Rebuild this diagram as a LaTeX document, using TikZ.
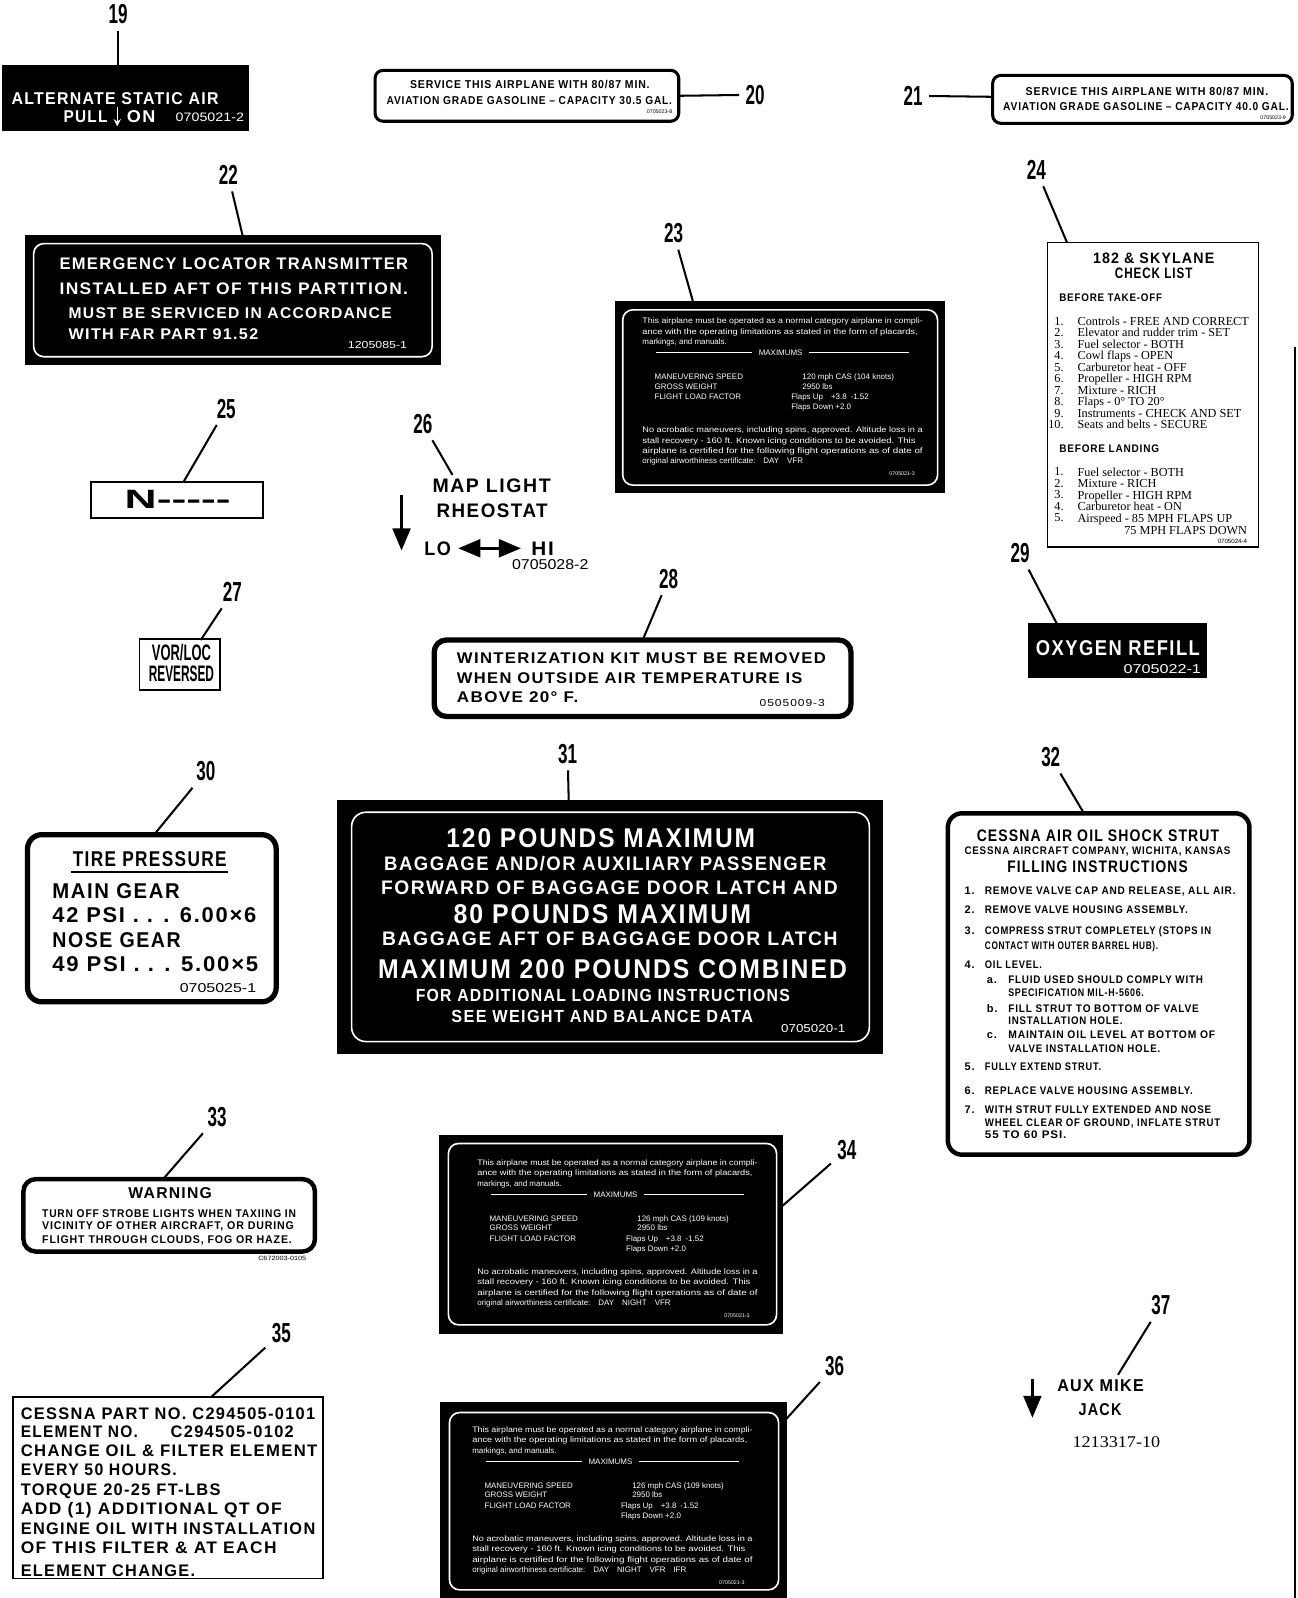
\documentclass[tikz,border=0pt]{standalone}
\usepackage{fontspec}
\usepackage{graphicx}
\setmainfont{Liberation Sans}
\newfontfamily\numfont[FakeStretch=0.62]{Liberation Sans}
\newfontfamily\plfont[LetterSpace=8]{Liberation Sans}
\newfontfamily\serfont{Liberation Serif}
\usetikzlibrary{arrows,shapes,positioning,calc}

\newlength\px
\setlength\px{0.5pt}
\newcommand\fsz[1]{\fontsize{#1}{#1}\selectfont}
\newcommand\fit[2]{\resizebox{#1\px}{\height}{#2}}

\tikzset{
  num/.style={font=\numfont\bfseries\fsz{13.5}, inner sep=3pt},
  lead/.style={line width=1pt},
  blackplate/.style={fill=black, draw=black, inner sep=0pt},
  whiteplate/.style={draw=black, fill=white, line width=2pt, rounded corners=4pt, inner sep=0pt},
  thinplate/.style={draw=black, fill=white, line width=0.8pt, inner sep=0pt},
  wtxt/.style={text=white, anchor=west, inner sep=0pt, text depth=0pt},
  btxt/.style={text=black, anchor=west, inner sep=0pt, text depth=0pt},
  rim/.style={draw=white, line width=0.8pt, rounded corners=5pt},
  ltxt/.style={btxt, font=\serfont\fsz{6}},
}

% operating limitations placard (x, y of first line, name, speed, operations)
\newcommand\opsplate[5]{%
  \begin{scope}[shift={(#1,#2)}, font=\fsz{3.9}]
    \node[wtxt] (#3a) at (0,0) {\fit{275}{This airplane must be operated as a normal category airplane in compli-}};
    \node[wtxt] (#3b) at (0,10) {\fit{270}{ance with the operating limitations as stated in the form of placards,}};
    \node[wtxt] (#3c) at (0,20) {markings, and manuals.};
    \draw[white, line width=0.4pt] (14,31) -- (108,31);
    \node[wtxt, anchor=center] (#3d) at (136,31) {MAXIMUMS};
    \draw[white, line width=0.4pt] (164,31) -- (262,31);
    \node[wtxt] (#3e) at (12,55) {MANEUVERING SPEED};
    \node[wtxt] (#3f) at (12,64) {GROSS WEIGHT};
    \node[wtxt] (#3g) at (12,74) {FLIGHT LOAD FACTOR};
    \node[wtxt] (#3h) at (157,55) {#4};
    \node[wtxt] (#3i) at (157,64) {2950 lbs};
    \node[wtxt] (#3j) at (146,74) {Flaps Up\quad +3.8\enspace -1.52};
    \node[wtxt] (#3k) at (146,84) {Flaps Down +2.0};
    \node[wtxt] (#3l) at (0,107) {\fit{275}{No acrobatic maneuvers, including spins, approved. Altitude loss in a}};
    \node[wtxt] (#3m) at (0,117) {\fit{268}{stall recovery - 160 ft. Known icing conditions to be avoided. This}};
    \node[wtxt] (#3n) at (0,127) {\fit{275}{airplane is certified for the following flight operations as of date of}};
    \node[wtxt] (#3o) at (0,137) {original airworthiness certificate:\quad #5};
    \node[wtxt, anchor=east, font=\fsz{2.6}] (#3p) at (268,150) {0705021-3};
  \end{scope}}

\begin{document}
\begin{tikzpicture}[x=0.5pt, y=-0.5pt]
  \fill[white] (0,0) rectangle (1273,1568);
  \useasboundingbox (0,0) rectangle (1273,1568);

  % 19
  \node[num] (n19) at (116,14) {19};
  \node[blackplate, minimum width=242\px, minimum height=64\px] (p19) at (123,96) {};
  \coordinate (c19) at (116,64);
  \draw[lead] (n19) -- (c19);
  \node[wtxt, font=\plfont\bfseries\fsz{8.4}] (t19a) at (11,97) {\fit{203}{ALTERNATE STATIC AIR}};
  \node[wtxt, font=\plfont\bfseries\fsz{8.4}] (t19b) at (62,114) {\fit{43}{PULL}};
  \draw[white, line width=0.6pt, -stealth] (115,105) -- (115,124);
  \node[wtxt, font=\plfont\bfseries\fsz{8.4}] (t19c) at (124,114) {\fit{28}{ON}};
  \node[wtxt, font=\fsz{6}] (t19d) at (172,115) {\fit{67}{0705021-2}};

  % 20
  \node[whiteplate, line width=1.5pt, minimum width=298\px, minimum height=50\px] (p20) at (517,94) {};
  \node[btxt, font=\plfont\bfseries\fsz{5.6}] (t20a) at (402,83) {\fit{235}{SERVICE THIS AIRPLANE WITH 80/87 MIN.}};
  \node[btxt, font=\plfont\bfseries\fsz{5.6}] (t20b) at (379,99) {\fit{280}{AVIATION GRADE GASOLINE – CAPACITY 30.5 GAL.}};
  \node[btxt, anchor=east, font=\fsz{2.6}] (t20c) at (660,110) {0705023-8};
  \node[num] (n20) at (741,93) {20};
  \coordinate (c20) at (666,94);
  \draw[lead] (c20) -- (n20);

  % 21
  \node[num] (n21) at (896,94) {21};
  \node[whiteplate, line width=1.5pt, minimum width=294\px, minimum height=47\px] (p21) at (1121,97.5) {};
  \coordinate (c21) at (974,95);
  \draw[lead] (n21) -- (c21);
  \node[btxt, font=\plfont\bfseries\fsz{5.6}] (t21a) at (1006,90) {\fit{238}{SERVICE THIS AIRPLANE WITH 80/87 MIN.}};
  \node[btxt, font=\plfont\bfseries\fsz{5.6}] (t21b) at (984,105) {\fit{280}{AVIATION GRADE GASOLINE – CAPACITY 40.0 GAL.}};
  \node[btxt, anchor=east, font=\fsz{2.6}] (t21c) at (1262,115) {0705023-9};

  % 22
  \node[num] (n22) at (224,172) {22};
  \node[blackplate, minimum width=407\px, minimum height=127\px] (p22) at (228.5,294.5) {};
  \coordinate (c22) at (238,231);
  \draw[lead] (n22) -- (c22);
  \draw[rim] (33,239) rectangle (424,350);
  \node[wtxt, font=\plfont\bfseries\fsz{8.2}] (t22a) at (58,259) {\fit{342}{EMERGENCY LOCATOR TRANSMITTER}};
  \node[wtxt, font=\plfont\bfseries\fsz{8.2}] (t22b) at (58,283) {\fit{342}{INSTALLED AFT OF THIS PARTITION.}};
  \node[wtxt, font=\plfont\bfseries\fsz{7.6}] (t22c) at (67,307) {\fit{317}{MUST BE SERVICED IN ACCORDANCE}};
  \node[wtxt, font=\plfont\bfseries\fsz{7.6}] (t22d) at (67,328) {\fit{186}{WITH FAR PART 91.52}};
  \node[wtxt, font=\fsz{5}] (t22e) at (341,338) {\fit{58}{1205085-1}};

  % 23
  \node[num] (n23) at (661,229) {23};
  \node[blackplate, minimum width=323\px, minimum height=187\px] (p23) at (765.5,389.5) {};
  \coordinate (c23) at (680,296);
  \draw[lead] (n23) -- (c23);
  \draw[rim] (611,304) rectangle (920,476);
  \opsplate{630}{315}{t23}{120 mph CAS (104 knots)}{DAY\quad VFR}

  % 24
  \node[num] (n24) at (1017,167) {24};
  \node[thinplate, minimum width=207\px, minimum height=299\px] (p24) at (1131.5,387.5) {};
  \coordinate (c24) at (1047,238);
  \draw[lead] (n24) -- (c24);
  \node[btxt, anchor=center, font=\plfont\bfseries\fsz{7.4}] (t24a) at (1132,253) {\fit{119}{182 \& SKYLANE}};
  \node[btxt, anchor=center, font=\plfont\bfseries\fsz{7.4}] (t24b) at (1132,268) {\fit{76}{CHECK LIST}};
  \node[btxt, font=\plfont\bfseries\fsz{5.4}] (t24c) at (1039,292) {\fit{101}{BEFORE TAKE-OFF}};
  \foreach \k/\s [count=\i from 0] in {1./Controls - FREE AND CORRECT, 2./Elevator and rudder trim - SET,
      3./Fuel selector - BOTH, 4./Cowl flaps - OPEN, 5./Carburetor heat - OFF, 6./Propeller - HIGH RPM,
      7./Mixture - RICH, 8./Flaps - 0° TO 20°, 9./Instruments - CHECK AND SET, 10./Seats and belts - SECURE}{
    \node[ltxt, anchor=east] (k24-\i) at (1044,{315+11.3*\i}) {\k};
    \node[ltxt] (s24-\i) at (1057,{315+11.3*\i}) {\s};
  }
  \node[btxt, font=\plfont\bfseries\fsz{5.4}] (t24d) at (1039,440) {\fit{98}{BEFORE LANDING}};
  \foreach \k/\s [count=\i from 0] in {1./Fuel selector - BOTH, 2./Mixture - RICH, 3./Propeller - HIGH RPM,
      4./Carburetor heat - ON, 5./Airspeed - 85 MPH FLAPS UP}{
    \node[ltxt, anchor=east] (l24-\i) at (1044,{463+11.3*\i}) {\k};
    \node[ltxt] (m24-\i) at (1057,{463+11.3*\i}) {\s};
  }
  \node[ltxt, anchor=east] (t24e) at (1224,520) {75 MPH FLAPS DOWN};
  \node[btxt, anchor=east, font=\fsz{3}] (t24f) at (1224,531) {0705024-4};

  % 25
  \node[num] (n25) at (222,401) {25};
  \node[thinplate, minimum width=169\px, minimum height=35\px] (p25) at (173.5,490.5) {};
  \coordinate (c25) at (180,473);
  \draw[lead] (n25) -- (c25);
  \node[btxt, font=\bfseries\fsz{13}] (t25) at (122,490) {\fit{104}{N-{}-{}-{}-{}-}};

  % 26
  \node[num] (n26) at (415,416) {26};
  \coordinate (c26) at (444,466);
  \draw[lead] (n26) -- (c26);
  \node[btxt, font=\plfont\bfseries\fsz{9.6}] (t26a) at (424,477) {\fit{116}{MAP LIGHT}};
  \node[btxt, font=\plfont\bfseries\fsz{9.6}] (t26b) at (428,501) {\fit{109}{RHEOSTAT}};
  \draw[line width=1.5pt, -triangle 45] (394,486) -- (394,540);
  \node[btxt, font=\plfont\bfseries\fsz{9.6}] (lo) at (416,538) {\fit{26}{LO}};
  \node[btxt, font=\plfont\bfseries\fsz{9.6}] (hi) at (521,538) {\fit{22}{HI}};
  \draw[line width=1.5pt, triangle 45-triangle 45, shorten <=3.5pt, shorten >=5pt] (lo) -- (hi);
  \node[btxt, font=\fsz{7}] (t26c) at (502,554) {\fit{75}{0705028-2}};

  % 27
  \node[num] (n27) at (228,581) {27};
  \node[thinplate, minimum width=79\px, minimum height=50\px] (p27) at (176.5,652) {};
  \coordinate (c27) at (197,628);
  \draw[lead] (n27) -- (c27);
  \node[btxt, anchor=center, font=\numfont\bfseries\fsz{11}] (t27a) at (178,640) {\fit{58}{VOR/LOC}};
  \node[btxt, anchor=center, font=\numfont\bfseries\fsz{11}] (t27b) at (178,661) {\fit{64}{REVERSED}};

  % 28
  \node[num] (n28) at (656,568) {28};
  \node[whiteplate, line width=2.6pt, rounded corners=6pt, minimum width=409\px, minimum height=75\px] (p28) at (630.5,665.5) {};
  \coordinate (c28) at (631,627);
  \draw[lead] (n28) -- (c28);
  \node[btxt, font=\plfont\bfseries\fsz{7.6}] (t28a) at (448,646) {\fit{362}{WINTERIZATION KIT MUST BE REMOVED}};
  \node[btxt, font=\plfont\bfseries\fsz{7.6}] (t28b) at (448,665) {\fit{339}{WHEN OUTSIDE AIR TEMPERATURE IS}};
  \node[btxt, font=\plfont\bfseries\fsz{7.6}] (t28c) at (448,684) {\fit{119}{ABOVE 20° F.}};
  \node[btxt, font=\plfont\fsz{5}] (t28d) at (745,690) {\fit{64}{0505009-3}};

  % 29
  \node[num] (n29) at (1001,543) {29};
  \node[blackplate, minimum width=175\px, minimum height=53\px] (p29) at (1096.5,638.5) {};
  \coordinate (c29) at (1037,612);
  \draw[lead] (n29) -- (c29);
  \node[wtxt, font=\plfont\bfseries\fsz{10.5}] (t29a) at (1016,636) {\fit{161}{OXYGEN REFILL}};
  \node[wtxt, font=\fsz{6.3}] (t29b) at (1102,656) {\fit{76}{0705022-1}};

  % 30
  \node[num] (n30) at (202,757) {30};
  \node[whiteplate, line width=2.6pt, rounded corners=7pt, minimum width=244\px, minimum height=164\px] (p30) at (149,901) {};
  \coordinate (c30) at (152,818);
  \draw[lead] (n30) -- (c30);
  \node[btxt, font=\plfont\bfseries\fsz{10.5}] (t30a) at (71,843) {\fit{151}{TIRE PRESSURE}};
  \draw[line width=1pt] (70,856) -- (224,856);
  \node[btxt, font=\plfont\bfseries\fsz{10.5}] (t30b) at (51,874) {\fit{125}{MAIN GEAR}};
  \node[btxt, font=\plfont\bfseries\fsz{10.5}] (t30c) at (51,898) {\fit{200}{42 PSI . . . 6.00×6}};
  \node[btxt, font=\plfont\bfseries\fsz{10.5}] (t30d) at (51,922) {\fit{126}{NOSE GEAR}};
  \node[btxt, font=\plfont\bfseries\fsz{10.5}] (t30e) at (51,946) {\fit{202}{49 PSI . . . 5.00×5}};
  \node[btxt, font=\fsz{6.3}] (t30f) at (176,969) {\fit{75}{0705025-1}};

  % 31
  \node[num] (n31) at (557,740) {31};
  \node[blackplate, minimum width=535\px, minimum height=249\px] (p31) at (598.5,909.5) {};
  \coordinate (c31) at (558,785);
  \draw[lead] (n31) -- (c31);
  \draw[rim, rounded corners=7pt] (345,797) rectangle (853,1022);
  \node[wtxt, anchor=center, font=\plfont\bfseries\fsz{13.3}] (t31a) at (589.5,822) {\fit{303}{120 POUNDS MAXIMUM}};
  \node[wtxt, anchor=center, font=\plfont\bfseries\fsz{9.6}] (t31b) at (594,847) {\fit{434}{BAGGAGE AND/OR AUXILIARY PASSENGER}};
  \node[wtxt, anchor=center, font=\plfont\bfseries\fsz{9.6}] (t31c) at (598,871) {\fit{448}{FORWARD OF BAGGAGE DOOR LATCH AND}};
  \node[wtxt, anchor=center, font=\plfont\bfseries\fsz{13.3}] (t31d) at (591,897) {\fit{292}{80 POUNDS MAXIMUM}};
  \node[wtxt, anchor=center, font=\plfont\bfseries\fsz{9.6}] (t31e) at (598.5,921) {\fit{447}{BAGGAGE AFT OF BAGGAGE DOOR LATCH}};
  \node[wtxt, anchor=center, font=\plfont\bfseries\fsz{13.3}] (t31f) at (601,951) {\fit{460}{MAXIMUM 200 POUNDS COMBINED}};
  \node[wtxt, anchor=center, font=\plfont\bfseries\fsz{8.6}] (t31g) at (591.5,977) {\fit{367}{FOR ADDITIONAL LOADING INSTRUCTIONS}};
  \node[wtxt, anchor=center, font=\plfont\bfseries\fsz{8.6}] (t31h) at (591,997) {\fit{296}{SEE WEIGHT AND BALANCE DATA}};
  \node[wtxt, font=\fsz{5.6}] (t31i) at (766,1009) {\fit{63}{0705020-1}};

  % 32
  \node[num] (n32) at (1031,743) {32};
  \node[whiteplate, line width=2.2pt, rounded corners=7pt, minimum width=296\px, minimum height=335\px] (p32) at (1078,965.5) {};
  \coordinate (c32) at (1063,797);
  \draw[lead] (n32) -- (c32);
  \node[btxt, font=\plfont\bfseries\fsz{8.2}] (t32a) at (958,819.5) {\fit{238}{CESSNA AIR OIL SHOCK STRUT}};
  \node[btxt, font=\plfont\bfseries\fsz{5.4}] (t32b) at (946,835) {\fit{261}{CESSNA AIRCRAFT COMPANY, WICHITA, KANSAS}};
  \node[btxt, font=\plfont\bfseries\fsz{8.2}] (t32c) at (988,850.5) {\fit{177}{FILLING INSTRUCTIONS}};
  \begin{scope}[font=\plfont\bfseries\fsz{5.4}]
    \node[btxt] (k32-1) at (946,874) {1.};
    \node[btxt] (s32-1) at (966,874) {\fit{246}{REMOVE VALVE CAP AND RELEASE, ALL AIR.}};
    \node[btxt] (k32-2) at (946,893) {2.};
    \node[btxt] (s32-2) at (966,893) {\fit{199}{REMOVE VALVE HOUSING ASSEMBLY.}};
    \node[btxt] (k32-3) at (946,913) {3.};
    \node[btxt] (s32-3) at (966,913) {\fit{222}{COMPRESS STRUT COMPLETELY (STOPS IN}};
    \node[btxt] (r32-3) at (966,928) {\fit{170}{CONTACT WITH OUTER BARREL HUB).}};
    \node[btxt] (k32-4) at (946,947) {4.};
    \node[btxt] (s32-4) at (966,947) {\fit{56}{OIL LEVEL.}};
    \node[btxt] (k32-a) at (968,961.7) {a.};
    \node[btxt] (s32-a) at (989,961.7) {\fit{191}{FLUID USED SHOULD COMPLY WITH}};
    \node[btxt] (r32-a) at (989,974) {\fit{133}{SPECIFICATION MIL-H-5606.}};
    \node[btxt] (k32-b) at (968,989.5) {b.};
    \node[btxt] (s32-b) at (989,989.5) {\fit{187}{FILL STRUT TO BOTTOM OF VALVE}};
    \node[btxt] (r32-b) at (989,1001.6) {\fit{112}{INSTALLATION HOLE.}};
    \node[btxt] (k32-c) at (968,1015.7) {c.};
    \node[btxt] (s32-c) at (989,1015.7) {\fit{203}{MAINTAIN OIL LEVEL AT BOTTOM OF}};
    \node[btxt] (r32-c) at (989,1028.6) {\fit{149}{VALVE INSTALLATION HOLE.}};
    \node[btxt] (k32-5) at (946,1046.8) {5.};
    \node[btxt] (s32-5) at (966,1046.8) {\fit{114}{FULLY EXTEND STRUT.}};
    \node[btxt] (k32-6) at (946,1069.7) {6.};
    \node[btxt] (s32-6) at (966,1069.7) {\fit{204}{REPLACE VALVE HOUSING ASSEMBLY.}};
    \node[btxt] (k32-7) at (946,1089.3) {7.};
    \node[btxt] (s32-7) at (966,1089.3) {\fit{222}{WITH STRUT FULLY EXTENDED AND NOSE}};
    \node[btxt] (r32-7) at (966,1102) {\fit{231}{WHEEL CLEAR OF GROUND, INFLATE STRUT}};
    \node[btxt] (q32-7) at (966,1113.8) {\fit{80}{55 TO 60 PSI.}};
  \end{scope}

  % 33
  \node[num] (n33) at (213,1096) {33};
  \node[whiteplate, line width=2.2pt, rounded corners=6pt, minimum width=286\px, minimum height=71\px] (p33) at (166,1192.5) {};
  \coordinate (c33) at (160,1157);
  \draw[lead] (n33) -- (c33);
  \node[btxt, anchor=center, font=\plfont\bfseries\fsz{7.7}] (t33a) at (167,1171) {\fit{82}{WARNING}};
  \node[btxt, font=\plfont\bfseries\fsz{5.5}] (t33b) at (41,1190.6) {\fit{249}{TURN OFF STROBE LIGHTS WHEN TAXIING IN}};
  \node[btxt, font=\plfont\bfseries\fsz{5.5}] (t33c) at (41,1203) {\fit{247}{VICINITY OF OTHER AIRCRAFT, OR DURING}};
  \node[btxt, font=\plfont\bfseries\fsz{5.5}] (t33d) at (41,1216) {\fit{245}{FLIGHT THROUGH CLOUDS, FOG OR HAZE.}};
  \node[btxt, font=\fsz{3}] (t33e) at (253,1235) {\fit{47}{C672003-0105}};

  % 34
  \node[num] (n34) at (831,1128) {34};
  \node[blackplate, minimum width=337\px, minimum height=194\px] (p34) at (599.5,1211) {};
  \coordinate (c34) at (768,1183);
  \draw[lead] (n34) -- (c34);
  \draw[rim] (440,1122) rectangle (762,1300);
  \opsplate{468}{1141}{t34}{126 mph CAS (109 knots)}{DAY\quad NIGHT\quad VFR}

  % 35
  \node[num] (n35) at (276,1308) {35};
  \node[thinplate, minimum width=304\px, minimum height=178\px] (p35) at (165,1460) {};
  \coordinate (c35) at (207,1371);
  \draw[lead] (n35) -- (c35);
  \begin{scope}[font=\plfont\bfseries\fsz{8.2}]
    \node[btxt] (t35a) at (20,1387) {\fit{289}{CESSNA PART NO. C294505-0101}};
    \node[btxt] (t35b) at (20,1405) {\fit{115}{ELEMENT NO.}};
    \node[btxt] (t35c) at (167,1405) {\fit{121}{C294505-0102}};
    \node[btxt] (t35d) at (20,1423) {\fit{291}{CHANGE OIL \& FILTER ELEMENT}};
    \node[btxt] (t35e) at (20,1442) {\fit{153}{EVERY 50 HOURS.}};
    \node[btxt] (t35f) at (20,1462) {\fit{196}{TORQUE 20-25 FT-LBS}};
    \node[btxt] (t35g) at (20,1480) {\fit{256}{ADD (1) ADDITIONAL QT OF}};
    \node[btxt] (t35h) at (20,1500) {\fit{289}{ENGINE OIL WITH INSTALLATION}};
    \node[btxt] (t35i) at (20,1519) {\fit{251}{OF THIS FILTER \& AT EACH}};
    \node[btxt] (t35j) at (20,1541) {\fit{171}{ELEMENT CHANGE.}};
  \end{scope}

  % 36
  \node[num] (n36) at (819,1340) {36};
  \node[blackplate, minimum width=340\px, minimum height=192\px] (p36) at (602,1472) {};
  \coordinate (c36) at (770,1394);
  \draw[lead] (n36) -- (c36);
  \draw[rim] (441,1386) rectangle (764,1560);
  \opsplate{463}{1403}{t36}{126 mph CAS (109 knots)}{DAY\quad NIGHT\quad VFR\quad IFR}

  % 37
  \node[num] (n37) at (1139,1281) {37};
  \coordinate (c37) at (1097,1349);
  \draw[lead] (n37) -- (c37);
  \draw[line width=1.5pt, -triangle 45] (1013,1353) -- (1013,1391);
  \node[btxt, font=\plfont\bfseries\fsz{8.4}] (t37a) at (1037,1360) {\fit{85}{AUX MIKE}};
  \node[btxt, font=\plfont\bfseries\fsz{8.4}] (t37b) at (1058,1383) {\fit{42}{JACK}};
  \node[btxt, font=\serfont\fsz{8}] (t37c) at (1052,1415) {\fit{86}{1213317-10}};

  % right edge line
  \draw[line width=1pt] (1271,340) -- (1271,1568);
\end{tikzpicture}
\end{document}
